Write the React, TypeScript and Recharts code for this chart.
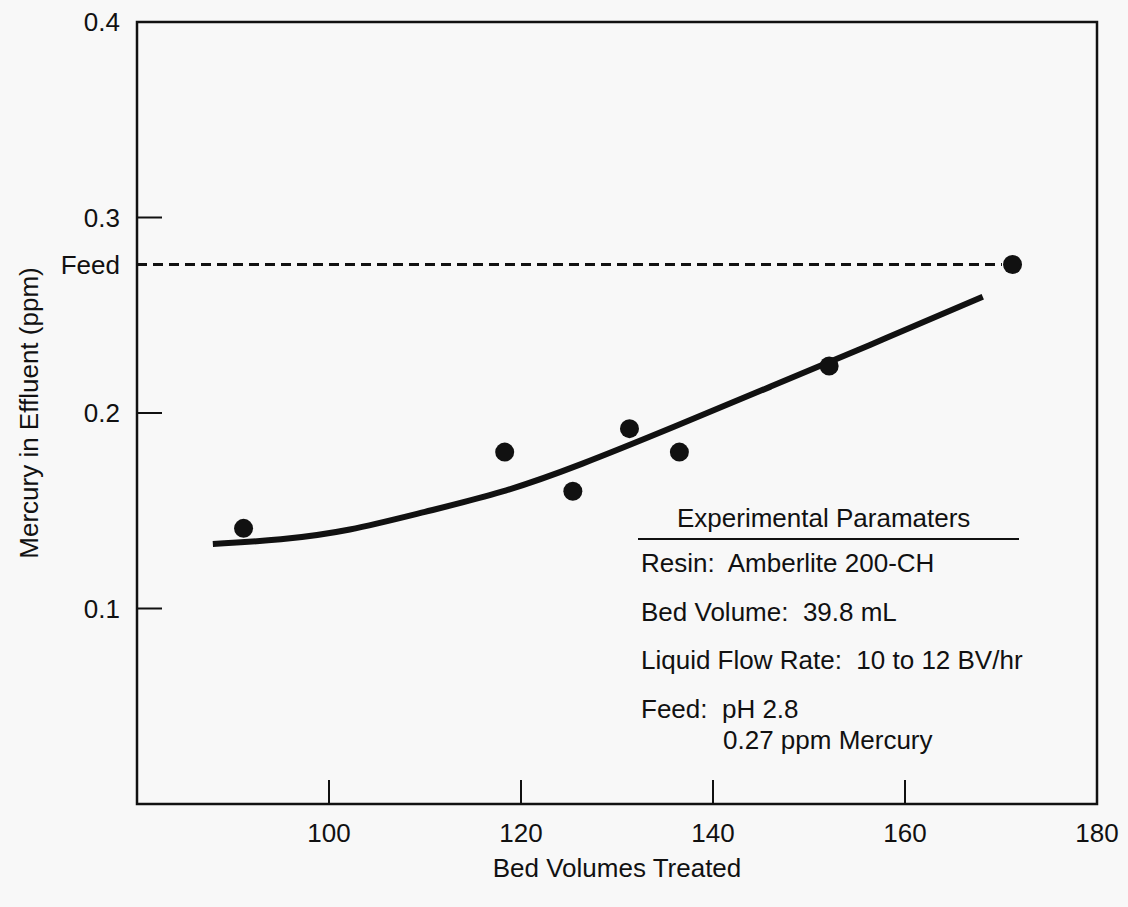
import React from 'react';
import { ComposedChart, Line, Scatter, XAxis, YAxis, ReferenceArea, Label } from 'recharts';

const FONT = '"Liberation Sans", Arial, Helvetica, sans-serif';
const INK = '#111';

// measured effluent samples
const sampleBedVolumes = [91.1, 118.3, 125.4, 131.3, 136.5, 152.1, 171.2];
const sampleMercury = [0.141, 0.18, 0.16, 0.192, 0.18, 0.224, 0.276];

// hand-drawn trend curve
const trendBedVolumes = [87.9, 95, 102, 110, 118, 126, 136, 146, 156, 168.1];
const trendMercury = [0.133, 0.135, 0.1395, 0.1495, 0.159, 0.173, 0.193, 0.2135, 0.234, 0.2595];

// feed concentration (dashed line)
const feedLevel = 0.276;
const feedBedVolumes = [80, 170.1];

const xTicks = [100, 120, 140, 160, 180];
const yTicks = [0.1, 0.2, feedLevel, 0.3, 0.4];

const paramTitle = 'Experimental Paramaters';
const paramLines = [
  'Resin:  Amberlite 200-CH',
  'Bed Volume:  39.8 mL',
  'Liquid Flow Rate:  10 to 12 BV/hr',
  'Feed:  pH 2.8',
];
const paramLastLine = '0.27 ppm Mercury';

const samples = sampleBedVolumes.map((x, i) => ({ x, y: sampleMercury[i] }));
const trend = trendBedVolumes.map((x, i) => ({ x, y: trendMercury[i] }));
const feed = feedBedVolumes.map((x) => ({ x, y: feedLevel }));

const Y_TICK_MARGIN = 17;
const X_TICK_MARGIN = 20;
const TICK_LEN = 25;
const FS = 26;

function YTick(props: any) {
  const { x, y, payload } = props;
  const isFeed = payload.value === feedLevel;
  const axisX = x + Y_TICK_MARGIN;
  return (
    <g>
      {!isFeed && <line x1={axisX} x2={axisX + TICK_LEN} y1={y} y2={y} stroke={INK} strokeWidth={2} />}
      <text x={x} y={y} dy="0.36em" textAnchor="end" fontSize={FS} fill={INK} fontFamily={FONT}>
        {isFeed ? 'Feed' : payload.value.toFixed(1)}
      </text>
    </g>
  );
}

function XTick(props: any) {
  const { x, y, payload } = props;
  const axisY = y - X_TICK_MARGIN;
  return (
    <g>
      <line x1={x} x2={x} y1={axisY} y2={axisY - TICK_LEN + 1} stroke={INK} strokeWidth={2} />
      <text x={x} y={y} dy="0.71em" textAnchor="middle" fontSize={FS} fill={INK} fontFamily={FONT}>
        {payload.value}
      </text>
    </g>
  );
}

const Dot = (p: any) => <circle cx={p.cx} cy={p.cy} r={9.5} fill={INK} />;

export default function App() {
  return (
    <div style={{ position: 'absolute', left: 0, top: 0, width: 1128, height: 907, background: '#f8f8f8', fontFamily: FONT }}>
      <ComposedChart width={1128} height={907} margin={{ top: 22, right: 31, bottom: 0, left: 0 }}>
        <XAxis
          dataKey="x"
          type="number"
          domain={[80, 180]}
          ticks={xTicks}
          tick={<XTick />}
          tickLine={false}
          axisLine={false}
          tickSize={0}
          tickMargin={X_TICK_MARGIN}
          height={103}
          allowDataOverflow
        >
          <Label value="Bed Volumes Treated" position="insideBottom" offset={30} fontSize={FS} fill={INK} fontFamily={FONT} />
        </XAxis>
        <YAxis
          dataKey="y"
          type="number"
          domain={[0, 0.4]}
          ticks={yTicks}
          tick={<YTick />}
          tickLine={false}
          axisLine={false}
          tickSize={0}
          tickMargin={Y_TICK_MARGIN}
          width={137}
          allowDataOverflow
        >
          <Label
            value="Mercury in Effluent (ppm)"
            angle={-90}
            position="insideLeft"
            offset={29}
            fontSize={FS}
            fill={INK}
            fontFamily={FONT}
            style={{ textAnchor: 'middle' }}
          />
        </YAxis>
        <ReferenceArea x1={80} x2={180} y1={0} y2={0.4} fill="none" fillOpacity={0} stroke={INK} strokeWidth={2.5} />
        <Line
          data={feed}
          dataKey="y"
          type="linear"
          stroke={INK}
          strokeWidth={3}
          strokeDasharray="10 6"
          dot={false}
          activeDot={false}
          isAnimationActive={false}
        />
        <Line
          data={trend}
          dataKey="y"
          type="basis"
          stroke={INK}
          strokeWidth={6}
          dot={false}
          activeDot={false}
          isAnimationActive={false}
        />
        <Scatter data={samples} dataKey="y" shape={Dot} isAnimationActive={false} />
      </ComposedChart>
      <svg width={1128} height={907} style={{ position: 'absolute', left: 0, top: 0, pointerEvents: 'none' }}>
        <g fontFamily={FONT} fontSize={FS} fill={INK}>
          <text x={677} y={527}>{paramTitle}</text>
          <line x1={638} x2={1019} y1={539} y2={539} stroke={INK} strokeWidth={2} />
          {paramLines.map((t, i) => (
            <text key={t} x={641} y={572 + i * 48.5} style={{ whiteSpace: 'pre' }}>{t}</text>
          ))}
          <text x={723} y={749}>{paramLastLine}</text>
        </g>
      </svg>
    </div>
  );
}
